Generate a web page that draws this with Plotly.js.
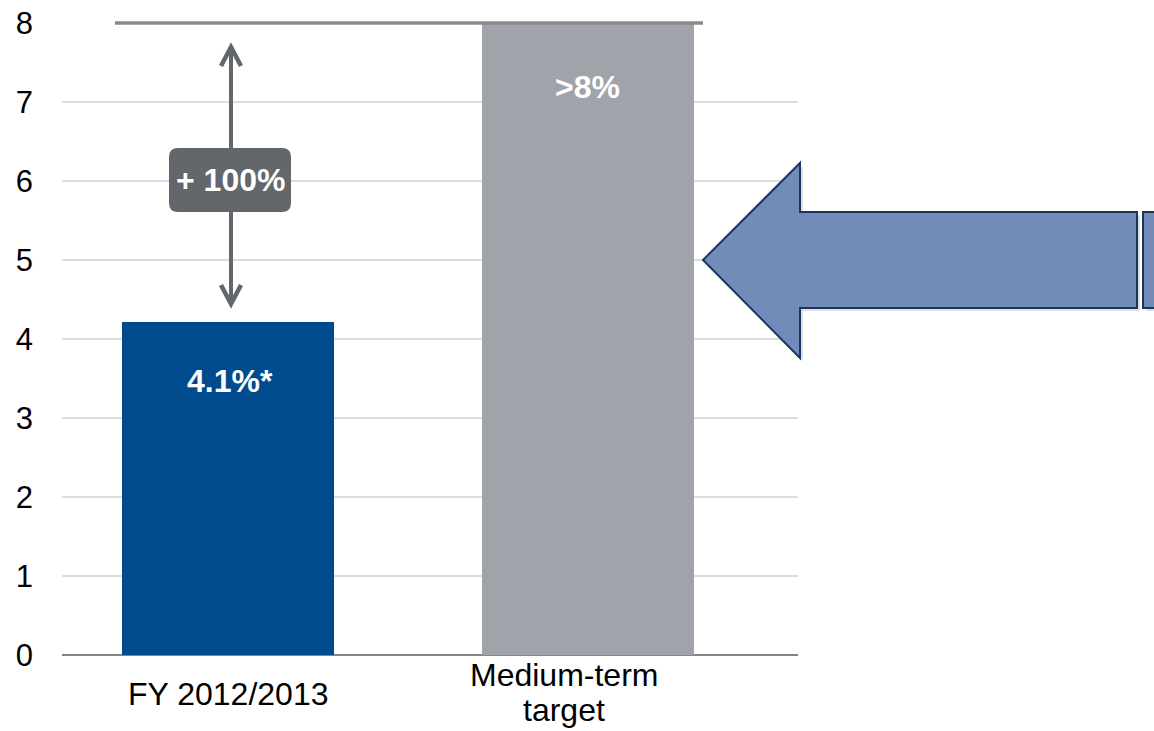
<!DOCTYPE html>
<html>
<head>
<meta charset="utf-8">
<script src="https://cdn.plot.ly/plotly-3.0.1.min.js"></script>
<style>html,body{margin:0;padding:0;background:#fff;}#chart{width:1154px;height:731px;}</style>
</head>
<body>
<div id="chart"></div>
<script>
// ---- data ----
const categories = ['FY 2012/2013', 'Medium-term target'];
const values = [4.22, 8];
const barLabels = ['4.1%*', '>8%'];
const barColors = ['#004B8D', '#A0A3AA'];
const yTicks = [0, 1, 2, 3, 4, 5, 6, 7, 8];
const xLabelLines = [['FY 2012/2013'], ['Medium-term', 'target']];
const changeLabel = '+ 100%';

// ---- layout helpers (pixel -> paper) ----
const W = 1154, H = 731;
const L = 62, R = 798, T = 23, B = 655;
const fx = px => (px - L) / (R - L);
const fy = py => (B - py) / (B - T);
const pt = (px, py) => fx(px).toFixed(5) + ',' + fy(py).toFixed(5);
const FONT = 'Arial, "Liberation Sans", sans-serif';
const GREY = '#63666A';

function roundRect(x0, y0, x1, y1, r) {
  return 'M' + pt(x0 + r, y0) + ' L' + pt(x1 - r, y0) + ' Q' + pt(x1, y0) + ' ' + pt(x1, y0 + r) +
    ' L' + pt(x1, y1 - r) + ' Q' + pt(x1, y1) + ' ' + pt(x1 - r, y1) +
    ' L' + pt(x0 + r, y1) + ' Q' + pt(x0, y1) + ' ' + pt(x0, y1 - r) +
    ' L' + pt(x0, y0 + r) + ' Q' + pt(x0, y0) + ' ' + pt(x0 + r, y0) + ' Z';
}
function arrowPath(dx, dy) {
  const p = [[703, 260], [800, 163], [800, 212], [1137, 212], [1137, 308], [800, 308], [800, 358]];
  return 'M' + p.map(q => pt(q[0] + dx, q[1] + dy)).join(' L') + ' Z';
}

const trace = {
  type: 'bar',
  x: categories,
  y: values,
  marker: { color: barColors, line: { width: 0 } },
  width: 0.589,
  hoverinfo: 'skip'
};

const shapes = [
  // top reference line at target level
  { type: 'line', xref: 'paper', yref: 'paper', x0: fx(115), x1: fx(703), y0: 1, y1: 1,
    line: { color: '#8A8A8A', width: 3.5 } },
  // double-headed arrow stem
  { type: 'line', xref: 'paper', yref: 'paper', x0: fx(231), x1: fx(231), y0: fy(48), y1: fy(303),
    line: { color: GREY, width: 4 } },
  { type: 'path', xref: 'paper', yref: 'paper', path: 'M' + pt(221, 66) + ' L' + pt(231, 47) + ' L' + pt(241, 66),
    line: { color: GREY, width: 4.5 } },
  { type: 'path', xref: 'paper', yref: 'paper', path: 'M' + pt(221, 285) + ' L' + pt(231, 304) + ' L' + pt(241, 285),
    line: { color: GREY, width: 4.5 } },
  // rounded label box
  { type: 'path', xref: 'paper', yref: 'paper', path: roundRect(169, 148, 291, 212, 9),
    fillcolor: GREY, line: { width: 0 } },
  // big arrow shadow
  { type: 'path', xref: 'paper', yref: 'paper', path: arrowPath(3, 3),
    fillcolor: 'rgba(0,0,0,0.12)', line: { width: 0 } },
  { type: 'rect', xref: 'paper', yref: 'paper', x0: fx(1146), x1: fx(1170), y0: fy(215), y1: fy(311),
    fillcolor: 'rgba(0,0,0,0.12)', line: { width: 0 } },
  // big arrow
  { type: 'path', xref: 'paper', yref: 'paper', path: arrowPath(0, 0),
    fillcolor: '#728BB8', line: { color: '#17375E', width: 2 } },
  { type: 'rect', xref: 'paper', yref: 'paper', x0: fx(1143), x1: fx(1170), y0: fy(212), y1: fy(308),
    fillcolor: '#728BB8', line: { color: '#17375E', width: 2 } }
];

const annotations = [];
categories.forEach((c, i) => {
  annotations.push({
    x: c, y: values[i], xref: 'x', yref: 'y', text: barLabels[i], showarrow: false,
    yanchor: 'middle', yshift: i === 0 ? -59 : -64, xshift: i === 0 ? 2 : 0,
    font: { family: FONT, size: 32, color: '#FFFFFF', weight: 'bold' }
  });
});
// category labels
annotations.push({ x: categories[0], y: 0, xref: 'x', yref: 'y', text: xLabelLines[0][0], showarrow: false,
  yanchor: 'middle', yshift: -39, xshift: 0, font: { family: FONT, size: 32, color: '#000' } });
annotations.push({ x: categories[1], y: 0, xref: 'x', yref: 'y', text: xLabelLines[1][0], showarrow: false,
  yanchor: 'middle', yshift: -20, xshift: -24, font: { family: FONT, size: 32, color: '#000' } });
annotations.push({ x: categories[1], y: 0, xref: 'x', yref: 'y', text: xLabelLines[1][1], showarrow: false,
  yanchor: 'middle', yshift: -55, xshift: -24, font: { family: FONT, size: 32, color: '#000' } });
// change label
annotations.push({ xref: 'paper', yref: 'paper', x: fx(230), y: fy(180), text: changeLabel, showarrow: false,
  xanchor: 'center', yanchor: 'middle', font: { family: FONT, size: 32, color: '#FFFFFF', weight: 'bold' } });

const layout = {
  width: W, height: H,
  margin: { l: L, r: W - R, t: T, b: H - B, pad: 0 },
  paper_bgcolor: '#FFFFFF', plot_bgcolor: '#FFFFFF',
  showlegend: false,
  bargap: 0,
  xaxis: {
    type: 'category', range: [-0.461, 1.584], showticklabels: false, showgrid: false,
    zeroline: false, showline: false, ticks: '', fixedrange: true
  },
  yaxis: {
    range: [0, 8], tickvals: yTicks, ticktext: yTicks.map(String), showgrid: true,
    gridcolor: '#D8DDE0', gridwidth: 2, zeroline: true, zerolinecolor: '#858585', zerolinewidth: 2,
    showline: false, ticks: '', ticklabelstandoff: 28,
    tickfont: { family: FONT, size: 31, color: '#000' }, fixedrange: true
  },
  shapes: shapes,
  annotations: annotations
};

Plotly.newPlot('chart', [trace], layout, { staticPlot: true, displayModeBar: false });
</script>
</body>
</html>
